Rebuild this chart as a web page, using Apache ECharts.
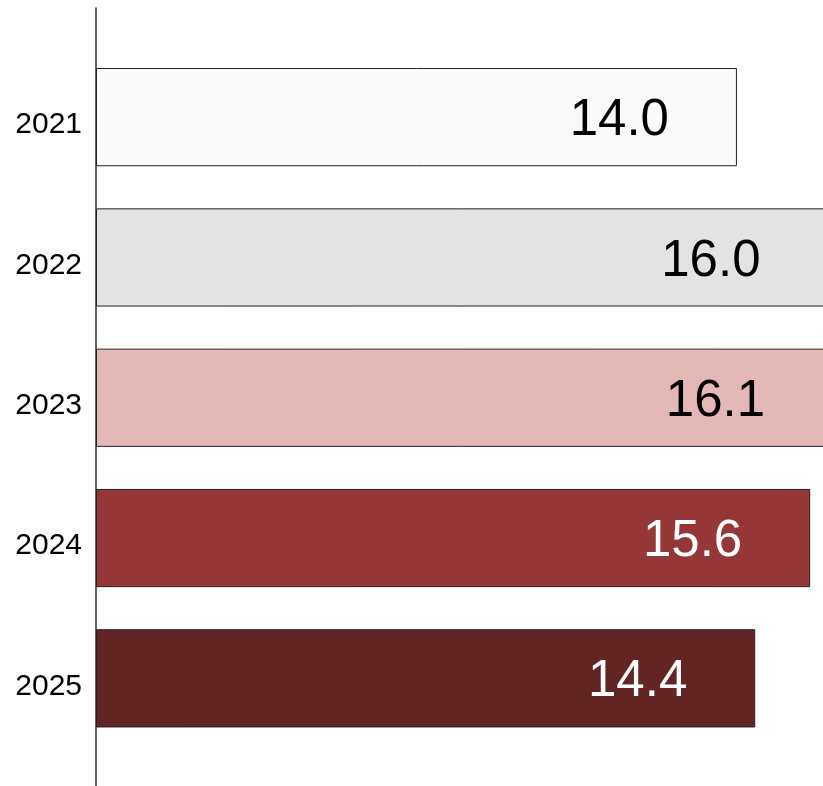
<!DOCTYPE html>
<html>
<head>
<meta charset="utf-8">
<script src="https://cdn.jsdelivr.net/npm/echarts@6/dist/echarts.min.js"></script>
<style>
  html, body { margin: 0; padding: 0; background: #fff; }
  #bar { width: 823px; height: 786px; }
</style>
</head>
<body>
<div id="bar"></div>
<script>
// data
const years = ["2021", "2022", "2023", "2024", "2025"];
const values = [14.0, 16.0, 16.1, 15.6, 14.4];
const barColors = ["#fafafa", "#e3e3e3", "#e5b8b8", "#963737", "#632424"];
const labelColors = ["#000", "#000", "#000", "#fff", "#fff"];

const myChart = echarts.init(document.getElementById("bar"));
const font = "'Liberation Sans', Arial, sans-serif";

let option = {
  animation: false,
  grid: [
    { left: 96, right: 0, top: 47, bottom: 37.5 },
    // only for the long axis line
    { left: 96, right: 0, top: 8, bottom: 0 },
  ],
  xAxis: [
    { gridIndex: 0, type: "value", min: 0, max: 15.88, show: false },
    { gridIndex: 1, type: "value", min: 0, max: 1, show: false },
  ],
  yAxis: [
    {
      gridIndex: 0,
      type: "category",
      data: years,
      inverse: true,
      axisLine: { show: false },
      axisTick: { show: false },
      splitLine: { show: false },
      axisLabel: {
        margin: 14,
        formatter: (v) => "{y|" + v + "}",
        rich: {
          y: {
            color: "#000",
            fontSize: 30,
            fontFamily: font,
            padding: [16, 0, 0, 0],
          },
        },
      },
    },
    {
      gridIndex: 1,
      type: "value",
      min: 0,
      max: 1,
      axisLine: { show: true, lineStyle: { color: "#333", width: 1.5 } },
      axisTick: { show: false },
      axisLabel: { show: false },
      splitLine: { show: false },
    },
  ],
  series: [
    {
      type: "bar",
      xAxisIndex: 0,
      yAxisIndex: 0,
      barWidth: "70%",
      clip: false,
      data: values.map((v, i) => ({
        value: v,
        itemStyle: { color: barColors[i], borderColor: "#222", borderWidth: 1 },
        label: { color: labelColors[i] },
      })),
      label: {
        show: true,
        position: "insideRight",
        distance: 68,
        offset: [0, 4],
        fontSize: 51,
        fontFamily: font,
        formatter: (p) => p.value.toFixed(1),
      },
    },
  ],
};
myChart.setOption(option);
</script>
</body>
</html>
